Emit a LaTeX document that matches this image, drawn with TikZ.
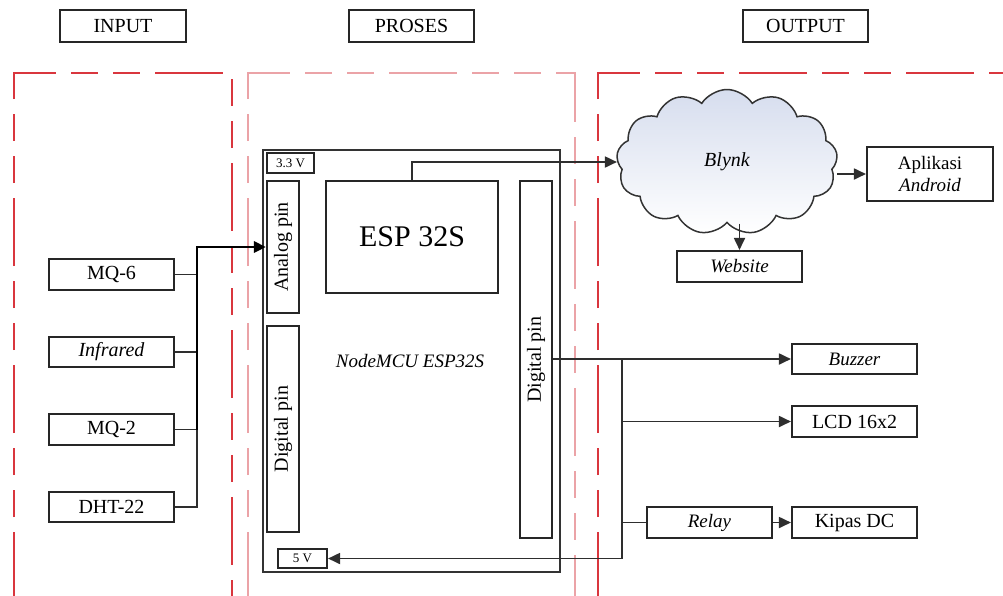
\documentclass[tikz,border=0pt]{standalone}
\usepackage{fontspec}
\setmainfont{Liberation Serif}
\usetikzlibrary{arrows.meta,shapes.symbols,calc}
\definecolor{redA}{HTML}{D9363E}
\definecolor{pinkA}{HTML}{EBA3A7}
\definecolor{lineC}{HTML}{2E2E2E}
\definecolor{cloudTop}{HTML}{D6DDEE}
\tikzset{
  fs/.style={font=\fontsize{#1}{#1}\selectfont},
  box/.style={draw=black!85, line width=2.1pt, fill=white, inner sep=0pt, align=center, fs=20},
  region/.style={line width=2.8pt, dash pattern=on 68pt off 15pt on 27pt off 15pt on 27pt off 15pt},
  conn/.style={draw=lineC, line width=1.8pt},
  arr/.style={conn, -{Triangle[length=12pt,width=11pt]}},
  arrthick/.style={draw=black, line width=2.8pt, -{Triangle[length=12pt,width=11pt]}},
}
\begin{document}
\begin{tikzpicture}[x=1pt,y=-1pt]
\useasboundingbox (0,0) rectangle (1003,595);
% regions
\draw[region, redA] (14,600) -- (14,73) -- (232,73) -- (232,600);
\draw[region, pinkA] (248,600) -- (248,73) -- (575,73) -- (575,600);
\draw[region, redA] (598,600) -- (598,73) -- (1010,73);
% headers
\node[box, minimum width=126pt, minimum height=32pt] (hin) at (123,26) {INPUT};
\node[box, minimum width=125pt, minimum height=32pt] (hpr) at (411.5,26) {PROSES};
\node[box, minimum width=125pt, minimum height=32pt] (hout) at (805.5,26) {OUTPUT};
% NodeMCU board
\node[draw=black!80, line width=1.7pt, minimum width=297pt, minimum height=422pt, inner sep=0pt] (mcu) at (411.5,361) {};
\node[font=\fontsize{19}{19}\selectfont\itshape] (mcuname) at (410,361) {NodeMCU ESP32S};
\node[box, fs=13, minimum width=47pt, minimum height=20pt] (v33) at (290.5,163) {3.3 V};
\node[box, minimum width=32pt, minimum height=132pt] (analog) at (283,247) {};
\node[fs=20, rotate=90] at (analog.center) {Analog pin};
\node[box, minimum width=32pt, minimum height=206pt] (dig1) at (283,429) {};
\node[fs=20, rotate=90] at (dig1.center) {Digital pin};
\node[box, fs=30, minimum width=172pt, minimum height=112pt] (esp) at (412,237) {ESP 32S};
\node[box, minimum width=32pt, minimum height=357pt] (dig2) at (536,359.5) {};
\node[fs=20, rotate=90] at (dig2.center) {Digital pin};
\node[box, fs=13, minimum width=49pt, minimum height=19pt] (v5) at (302.5,558.5) {5 V};
% inputs
\node[box, minimum width=125pt, minimum height=31pt] (mq6) at (111.5,274.5) {MQ-6};
\node[box, minimum width=125pt, minimum height=30pt, font=\fontsize{20}{20}\selectfont\itshape] (ir) at (111.5,352) {Infrared};
\node[box, minimum width=125pt, minimum height=31pt] (mq2) at (111.5,429.5) {MQ-2};
\node[box, minimum width=125pt, minimum height=30pt] (dht) at (111.5,507) {DHT-22};
\coordinate (busL) at (197,247);
\draw[conn] (mq6.east) -| (busL);
\draw[conn] (ir.east) -| (busL);
\draw[conn] (mq2.east) -| (busL);
\draw[conn] (dht.east) -| (busL);
\draw[arrthick] (mq2.east -| busL) -- (busL) -- (analog.west);
% cloud
\node[cloud, cloud puffs=13, cloud puff arc=115, aspect=1.5, draw=black!80, line width=1.5pt,
      top color=cloudTop, bottom color=white, minimum width=221pt, minimum height=145pt,
      inner sep=0pt, font=\fontsize{20}{20}\selectfont\itshape] (blynk) at (727,162) {Blynk};
\node[box, minimum width=126pt, minimum height=54pt, font=\fontsize{19}{22}\selectfont] (apl) at (930,174) {Aplikasi\\\textit{Android}};
\node[box, minimum width=125pt, minimum height=31pt, font=\fontsize{19}{19}\selectfont\itshape] (web) at (739.5,266.5) {Website};
\draw[arr] (esp.north) |- (blynk.west);
\draw[arr] (blynk.east |- apl.west) -- (apl.west);
\draw[arr] (blynk.south -| web.north) -- (web.north);
% outputs
\node[box, minimum width=125pt, minimum height=30pt, font=\fontsize{19}{19}\selectfont\itshape] (buzzer) at (854.5,359) {Buzzer};
\node[box, minimum width=125pt, minimum height=31pt] (lcd) at (854.5,421.5) {LCD 16x2};
\node[box, minimum width=125pt, minimum height=31pt, font=\fontsize{19}{19}\selectfont\itshape] (relay) at (709.5,522.5) {Relay};
\node[box, minimum width=125pt, minimum height=31pt] (kipas) at (854.5,522.5) {Kipas DC};
\coordinate (busR) at (622,359);
\coordinate (busB) at (622,558.5);
\draw[arr] (dig2.east |- buzzer.west) -- (buzzer.west);
\draw[arr] (busR |- lcd.west) -- (lcd.west);
\draw[conn] (busR) |- (relay.west);
\draw[arr] (relay.east) -- (kipas.west);
\draw[arr] (busR) -- (busB) -- (v5.east);
\end{tikzpicture}
\end{document}
